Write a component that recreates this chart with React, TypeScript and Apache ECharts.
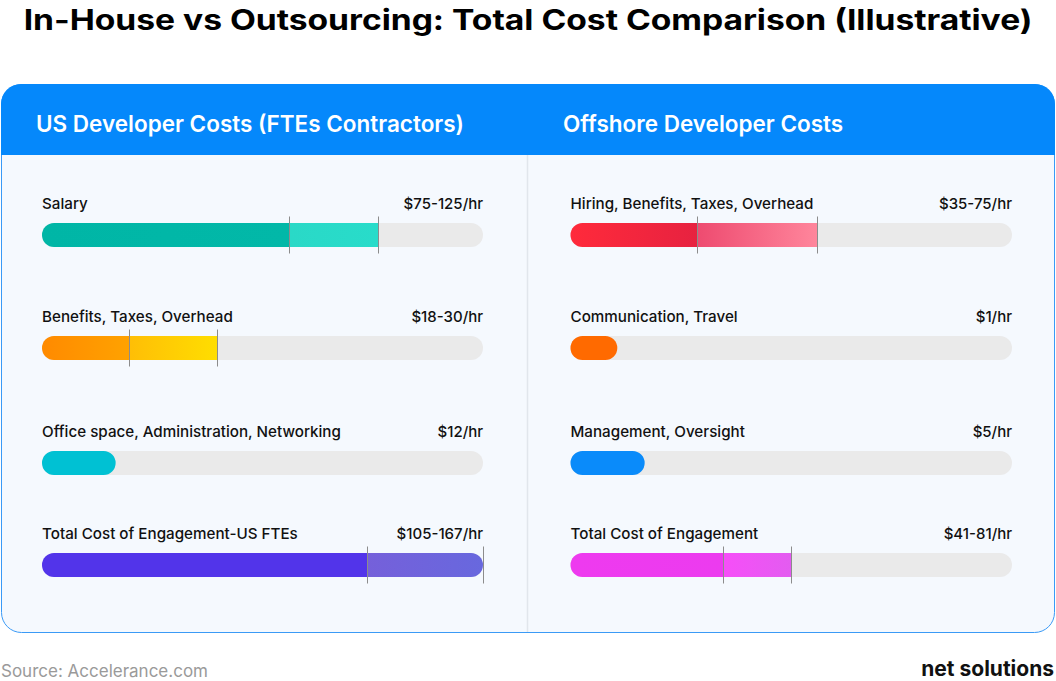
import React, { useEffect, useRef } from "react";
import * as echarts from "echarts";

const TITLE = "In-House vs Outsourcing: Total Cost Comparison (Illustrative)";
const PANEL_TITLES = ["US Developer Costs (FTEs Contractors)", "Offshore Developer Costs"];

// Left panel (US)
const usCategories = ["Salary", "Benefits, Taxes, Overhead", "Office space, Administration, Networking", "Total Cost of Engagement-US FTEs"];
const usValueLabels = ["$75-125/hr", "$18-30/hr", "$12/hr", "$105-167/hr"];
// bar extents as percent of track (illustrative scale)
const usLow = [56.1, 19.8, 16.7, 73.8];
const usHigh = [76.3, 39.8, null, 100];

// Right panel (Offshore)
const offCategories = ["Hiring, Benefits, Taxes, Overhead", "Communication, Travel", "Management, Oversight", "Total Cost of Engagement"];
const offValueLabels = ["$35-75/hr", "$1/hr", "$5/hr", "$41-81/hr"];
const offLow = [28.8, 10.6, 16.8, 34.7];
const offHigh = [56.0, null, null, 50.1];

const SOURCE = "Source: Accelerance.com";
const LOGO = "net solutions";

const lg = (c1: string, c2: string) =>
  new echarts.graphic.LinearGradient(0, 0, 1, 0, [
    { offset: 0, color: c1 },
    { offset: 1, color: c2 },
  ]);

const usLowColors = [lg("#00B6A6", "#02B8A8"), lg("#FF8A00", "#FFA200"), "#00C1D3", "#5234EA"];
const usRangeColors = [lg("#2AD9C7", "#28DCCA"), lg("#FFBE06", "#FFDE00"), "", lg("#7560DA", "#6868DE")];
const offLowColors = [lg("#FF2A3B", "#E72240"), "#FF6A00", "#0A8BFA", lg("#EE3AEF", "#EC3BEF")];
const offRangeColors = [lg("#EE4B70", "#FF869C"), "", "", lg("#F64EF8", "#E35CF0")];

export default function App() {
  const ref = useRef<HTMLDivElement>(null);
  useEffect(() => {
    document.body.style.margin = "0";
    const chart = echarts.init(ref.current!, null, { renderer: "svg" });
    const rowCenters = [235, 348, 463, 565];
    const labelY = [203, 316, 431, 533];
    const panels = [
      { left: 42, width: 441, cats: usCategories, vals: usValueLabels, low: usLow, high: usHigh, lowC: usLowColors, rangeC: usRangeColors },
      { left: 570.5, width: 441.5, cats: offCategories, vals: offValueLabels, low: offLow, high: offHigh, lowC: offLowColors, rangeC: offRangeColors },
    ];
    const grids: any[] = [];
    const xAxes: any[] = [];
    const yAxes: any[] = [];
    const series: any[] = [];
    const texts: any[] = [];
    const font = "Inter, 'Noto Sans', sans-serif";
    panels.forEach((p, pi) => {
      p.cats.forEach((cat, i) => {
        const gi = grids.length;
        grids.push({ left: p.left, width: p.width, top: rowCenters[i] - 18.5, height: 37 });
        xAxes.push({ gridIndex: gi, type: "value", min: 0, max: 100, show: false });
        yAxes.push({ gridIndex: gi, type: "category", data: [cat], show: false });
        const low = p.low[i] as number;
        const high = p.high[i] as number | null;
        series.push({
          type: "bar", xAxisIndex: gi, yAxisIndex: gi, data: [100], barWidth: 24, barGap: "-100%",
          itemStyle: { color: "#EAEAEA", borderRadius: 12 }, silent: true, z: 1,
        });
        series.push({
          type: "bar", xAxisIndex: gi, yAxisIndex: gi, data: [low], barWidth: 24, barGap: "-100%", stack: "s" + gi,
          itemStyle: { color: p.lowC[i], borderRadius: high == null ? 12 : [12, 0, 0, 12] }, silent: true, z: 2,
        });
        if (high != null) {
          series.push({
            type: "bar", xAxisIndex: gi, yAxisIndex: gi, data: [high - low], barWidth: 24, barGap: "-100%", stack: "s" + gi,
            itemStyle: { color: p.rangeC[i], borderRadius: high >= 100 ? [0, 12, 12, 0] : 0 }, silent: true, z: 2,
            markLine: {
              silent: true, symbol: "none", label: { show: false },
              lineStyle: { color: "#8C8C8C", width: 1, type: "solid" },
              data: [{ xAxis: low }, { xAxis: high }],
            },
          });
        }
        texts.push({
          type: "text", x: p.left, y: labelY[i], z: 10,
          style: { text: cat, fill: "#111111", font: `500 15.2px ${font}`, textVerticalAlign: "middle", textAlign: "left" },
        });
        texts.push({
          type: "text", x: p.left + p.width, y: labelY[i], z: 10,
          style: { text: p.vals[i], fill: "#111111", font: `500 15px ${font}`, textVerticalAlign: "middle", textAlign: "right" },
        });
      });
      texts.push({
        type: "text", x: pi === 0 ? 36 : 563, y: 123, z: 10,
        style: { text: PANEL_TITLES[pi], fill: "#FFFFFF", font: `600 22.5px ${font}`, textVerticalAlign: "middle", textAlign: "left" },
      });
    });

    const graphic: any[] = [
      { type: "rect", z: -10, shape: { x: 1.5, y: 84.5, width: 1053, height: 548, r: 20 }, style: { fill: "#F5F9FE", stroke: "#3A9AF6", lineWidth: 1 } },
      { type: "rect", z: -9, shape: { x: 1, y: 84, width: 1054, height: 71, r: [20, 20, 0, 0] }, style: { fill: "#0588FB" } },
      { type: "line", z: -8, shape: { x1: 527.5, y1: 155, x2: 527.5, y2: 632 }, style: { stroke: "#E1E6EC", lineWidth: 1.5 } },
      { type: "text", x: 528, y: 20, scaleX: 1.2, z: 10, style: { text: TITLE, fill: "#000000", font: `700 28px ${font}`, textAlign: "center", textVerticalAlign: "middle" } },
      { type: "text", x: 1, y: 671, z: 10, style: { text: SOURCE, fill: "#9A9A9A", font: `400 17px ${font}`, textAlign: "left", textVerticalAlign: "middle" } },
      { type: "text", x: 1054, y: 668, z: 10, style: { text: LOGO, fill: "#111111", font: `700 21px ${font}`, textAlign: "right", textVerticalAlign: "middle" } },
      ...texts,
    ];

    chart.setOption({
      animation: false,
      grid: grids,
      xAxis: xAxes,
      yAxis: yAxes,
      series,
      graphic,
    });
    return () => chart.dispose();
  }, []);
  return <div ref={ref} style={{ width: 1056, height: 681 }} />;
}
